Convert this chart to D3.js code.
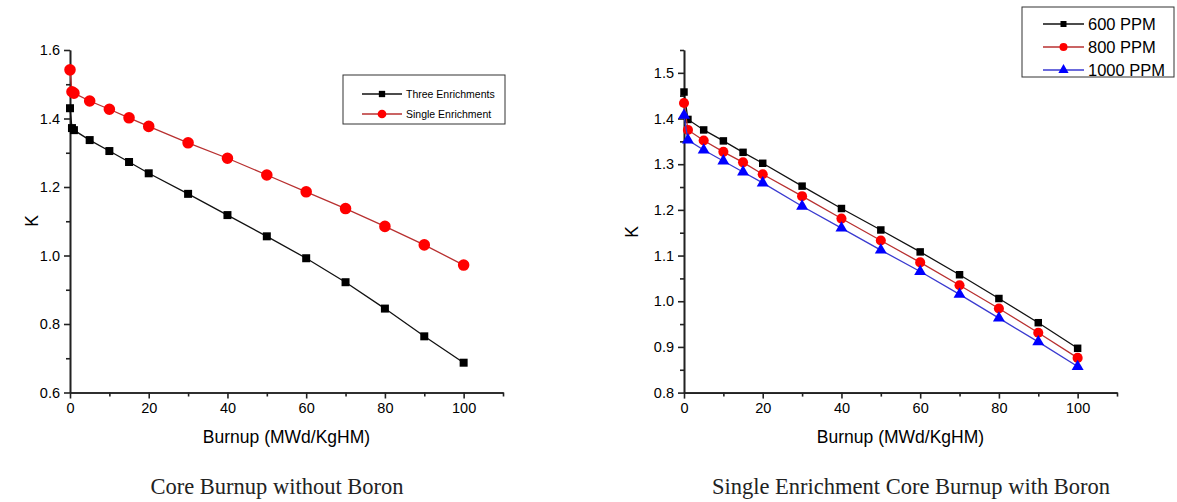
<!DOCTYPE html>
<meta charset="utf-8">
<head>
<script src="https://d3js.org/d3.v7.min.js"></script>
<style>
    body { margin: 0; background: #fff; }
    svg { display: block; }
    .axis path, .axis line { stroke: #222; stroke-width: 1.6px; }
    .axis text { font-family: "Liberation Sans", Arial, sans-serif; font-size: 14.5px; fill: #000; }
    .title { font-family: "Liberation Sans", Arial, sans-serif; font-size: 17.5px; fill: #000; }
    .caption { font-family: "Liberation Serif", "Times New Roman", serif; font-size: 22.5px; fill: #222; }
</style>
</head>
<body>
<svg width="1177" height="502"></svg>
<script>

// left chart: core burnup without boron
var burnupLeft = [0, 0.5, 1, 5, 10, 15, 20, 30, 40, 50, 60, 70, 80, 90, 100];
var threeEnrich = [1.430, 1.372, 1.366, 1.337, 1.305, 1.273, 1.240, 1.180, 1.118, 1.056, 0.992, 0.922, 0.845, 0.764, 0.687];
var singleEnrich = [1.542, 1.478, 1.474, 1.451, 1.427, 1.402, 1.377, 1.329, 1.284, 1.235, 1.186, 1.137, 1.085, 1.031, 0.972];

// right chart: single enrichment with boron
var burnupRight = [0, 1, 5, 10, 15, 20, 30, 40, 50, 60, 70, 80, 90, 100];
var ppm600 = [1.458, 1.398, 1.375, 1.351, 1.326, 1.302, 1.252, 1.203, 1.156, 1.108, 1.058, 1.006, 0.953, 0.897];
var ppm800 = [1.434, 1.375, 1.352, 1.327, 1.304, 1.278, 1.230, 1.181, 1.133, 1.085, 1.035, 0.984, 0.931, 0.876];
var ppm1000 = [1.407, 1.353, 1.331, 1.307, 1.283, 1.259, 1.208, 1.160, 1.112, 1.065, 1.015, 0.963, 0.911, 0.857];

var xMajor = [0, 20, 40, 60, 80, 100],
    xMinor = [10, 30, 50, 70, 90, 110],
    yMajorLeft = [0.6, 0.8, 1.0, 1.2, 1.4, 1.6],
    yMinorLeft = [0.7, 0.9, 1.1, 1.3, 1.5],
    yMajorRight = [0.8, 0.9, 1.0, 1.1, 1.2, 1.3, 1.4, 1.5],
    yMinorRight = [0.85, 0.95, 1.05, 1.15, 1.25, 1.35, 1.45, 1.55];

var svg = d3.select("svg");

function drawPanel(cfg) {
    var x = d3.scaleLinear().domain([0, 110]).range(cfg.xr),
        y = d3.scaleLinear().domain(cfg.yd).range(cfg.yr);
    var g = svg.append("g");

    g.append("g").attr("class", "axis")
        .attr("transform", "translate(0," + cfg.yr[0] + ")")
        .call(d3.axisBottom(x).tickValues(xMinor).tickSize(4).tickFormat("").tickSizeOuter(0));
    g.append("g").attr("class", "axis")
        .attr("transform", "translate(0," + cfg.yr[0] + ")")
        .call(d3.axisBottom(x).tickValues(xMajor).tickSize(6).tickPadding(4).tickSizeOuter(0)
            .tickFormat(d3.format("d")));
    g.append("g").attr("class", "axis")
        .attr("transform", "translate(" + cfg.xr[0] + ",0)")
        .call(d3.axisLeft(y).tickValues(cfg.yMinor).tickSize(4).tickFormat("").tickSizeOuter(0));
    g.append("g").attr("class", "axis")
        .attr("transform", "translate(" + cfg.xr[0] + ",0)")
        .call(d3.axisLeft(y).tickValues(cfg.yMajor).tickSize(6).tickPadding(4).tickSizeOuter(0)
            .tickFormat(d3.format(".1f")));

    g.append("text").attr("class", "title")
        .attr("x", (cfg.xr[0] + cfg.xr[1]) / 2).attr("y", 443)
        .attr("text-anchor", "middle")
        .text("Burnup (MWd/KgHM)");
    g.append("text").attr("class", "title")
        .attr("transform", "translate(" + cfg.kx + "," + cfg.ky + ") rotate(-90)")
        .attr("text-anchor", "middle")
        .text("K");

    cfg.series.forEach(function(s) {
        var pts = cfg.xs.map(function(v, i) { return [v, s.values[i]]; });
        g.append("path")
            .attr("d", d3.line().x(function(d) { return x(d[0]); }).y(function(d) { return y(d[1]); })(pts))
            .attr("fill", "none")
            .attr("stroke", s.line)
            .attr("stroke-width", 1.3);
        g.selectAll(null).data(pts).enter().append("path")
            .attr("transform", function(d) { return "translate(" + x(d[0]) + "," + y(d[1]) + ")"; })
            .attr("d", d3.symbol().type(s.shape).size(s.size))
            .attr("fill", s.fill);
    });

    // legend
    var lg = cfg.legend;
    g.append("rect")
        .attr("x", lg.x).attr("y", lg.y).attr("width", lg.w).attr("height", lg.h)
        .attr("fill", "#fff").attr("stroke", "#333").attr("stroke-width", 1);
    cfg.series.forEach(function(s, i) {
        var ry = lg.y + lg.first + i * lg.step;
        g.append("line")
            .attr("x1", lg.lx1).attr("x2", lg.lx2).attr("y1", ry).attr("y2", ry)
            .attr("stroke", s.line).attr("stroke-width", 1.3);
        g.append("path")
            .attr("transform", "translate(" + (lg.lx1 + lg.lx2) / 2 + "," + ry + ")")
            .attr("d", d3.symbol().type(s.shape).size(s.legendSize))
            .attr("fill", s.fill);
        g.append("text")
            .attr("x", lg.lx2 + 4).attr("y", ry).attr("dy", "0.35em")
            .attr("font-family", "Liberation Sans, Arial, sans-serif")
            .attr("font-size", lg.font)
            .attr("fill", "#000")
            .text(s.name);
    });

    g.append("text").attr("class", "caption")
        .attr("x", cfg.capX).attr("y", 494)
        .attr("text-anchor", "middle")
        .text(cfg.caption);
}

drawPanel({
    xr: [70, 503], yd: [0.6, 1.6], yr: [392.5, 50],
    yMajor: yMajorLeft, yMinor: yMinorLeft,
    xs: burnupLeft, kx: 38, ky: 221,
    series: [
        {name: "Three Enrichments", values: threeEnrich, line: "#111", fill: "#000", shape: d3.symbolSquare, size: 64, legendSize: 40},
        {name: "Single Enrichment", values: singleEnrich, line: "#b83030", fill: "#f00", shape: d3.symbolCircle, size: 105, legendSize: 60}
    ],
    legend: {x: 343, y: 75, w: 162, h: 49, first: 19, step: 20, lx1: 362, lx2: 402, font: "10.5px"},
    capX: 277, caption: "Core Burnup without Boron"
});

drawPanel({
    xr: [684, 1117], yd: [0.8, 1.55], yr: [392.6, 50],
    yMajor: yMajorRight, yMinor: yMinorRight,
    xs: burnupRight, kx: 638, ky: 232,
    series: [
        {name: "600 PPM", values: ppm600, line: "#111", fill: "#000", shape: d3.symbolSquare, size: 56, legendSize: 36},
        {name: "800 PPM", values: ppm800, line: "#b83030", fill: "#f00", shape: d3.symbolCircle, size: 80, legendSize: 50},
        {name: "1000 PPM", values: ppm1000, line: "#3a3ad0", fill: "#0000ff", shape: d3.symbolTriangle, size: 62, legendSize: 45}
    ],
    legend: {x: 1022, y: 7, w: 152, h: 70, first: 17, step: 23, lx1: 1043, lx2: 1084, font: "16.5px"},
    capX: 911, caption: "Single Enrichment Core Burnup with Boron"
});

</script>
</body>
